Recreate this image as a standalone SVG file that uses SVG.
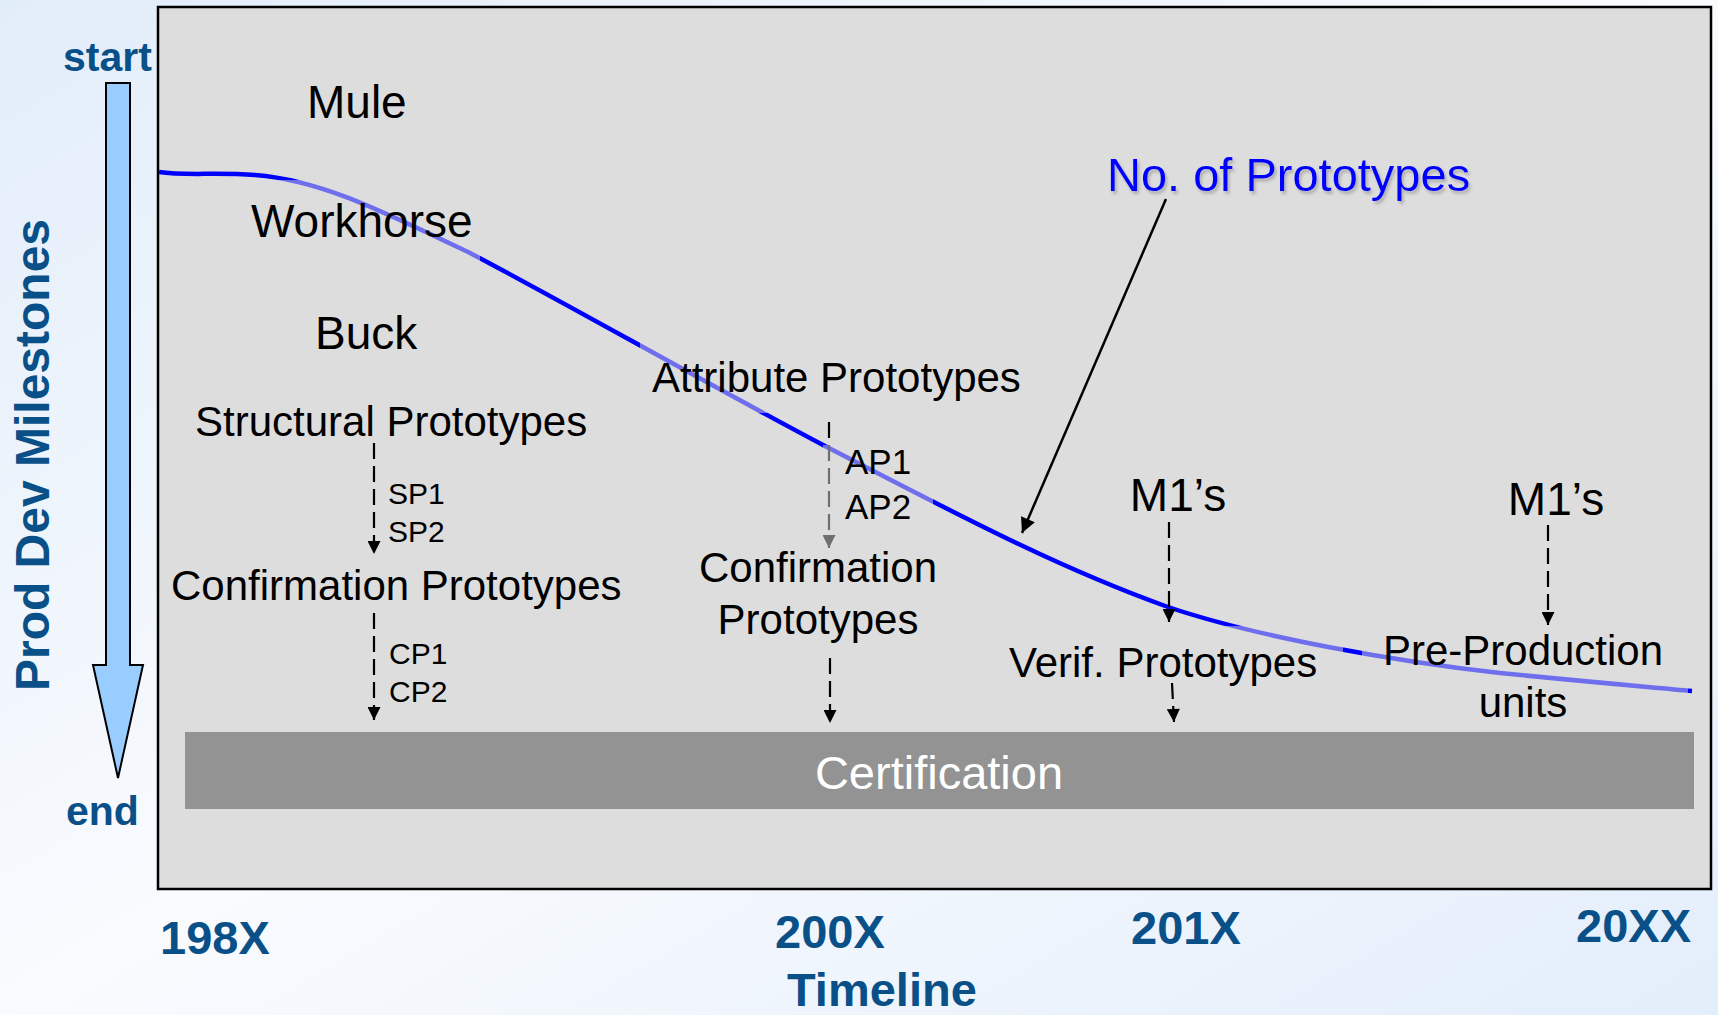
<svg xmlns="http://www.w3.org/2000/svg" width="1718" height="1015" viewBox="0 0 1718 1015">
  <defs>
    <linearGradient id="bg" x1="0" y1="0" x2="1" y2="1">
      <stop offset="0" stop-color="#e2edfa"/>
      <stop offset="0.5" stop-color="#f9fbfe"/>
      <stop offset="1" stop-color="#e3eefb"/>
    </linearGradient>
    <filter id="soft-shadow" x="-5%" y="-20%" width="110%" height="150%">
      <feDropShadow dx="2" dy="3" stdDeviation="1.5" flood-color="#777" flood-opacity="0.45"/>
    </filter>
    <marker id="head" viewBox="0 0 10 10" refX="10" refY="5" markerWidth="15" markerHeight="13" markerUnits="userSpaceOnUse" orient="auto">
      <path d="M0,0 L10,5 L0,10 z" fill="#000"/>
    </marker>
    <marker id="head-lg" viewBox="0 0 10 10" refX="10" refY="5" markerWidth="18" markerHeight="15" markerUnits="userSpaceOnUse" orient="auto">
      <path d="M0,0 L10,5 L0,10 z" fill="#000"/>
    </marker>
    <style>
      .label { font-family: "Liberation Sans", Arial, sans-serif; fill: #000; }
      .big { font-size: 46px; }
      .mid { font-size: 42px; }
      .small { font-size: 30px; }
      .axis { font-family: "Liberation Sans", Arial, sans-serif; font-weight: bold; fill: #0a5088; }
      .veil { fill: #dddddd; opacity: 0.5; }
      .dash { fill: none; stroke: #000; stroke-width: 2.2; stroke-dasharray: 16 7; marker-end: url(#head); }
      .curve { fill: none; stroke: #0000ff; stroke-width: 4.5; stroke-linecap: butt; }
    </style>
  </defs>

  <!-- page background -->
  <rect x="0" y="0" width="1718" height="1015" fill="url(#bg)"/>

  <!-- plot panel -->
  <rect id="panel" x="158" y="7" width="1553" height="882" fill="#dddddd" stroke="#000" stroke-width="2.5"/>

  <!-- milestone axis: big downward arrow -->
  <g id="milestone-axis">
    <polygon points="106,83 130,83 130,665 143,665 118,778 93,665 106,665" fill="#99ccff" stroke="#000" stroke-width="2"/>
    <text class="axis" x="63" y="71" font-size="41">start</text>
    <text class="axis" x="66" y="825" font-size="41">end</text>
    <text class="axis" font-size="48" text-anchor="middle" transform="translate(49,455) rotate(-90)">Prod Dev Milestones</text>
  </g>

  <!-- timeline axis -->
  <g id="timeline-axis" class="axis" font-size="47">
    <text x="160" y="954">198X</text>
    <text x="775" y="948">200X</text>
    <text x="1131" y="944">201X</text>
    <text x="1576" y="942">20XX</text>
    <text x="787" y="1006">Timeline</text>
  </g>

  <!-- certification bar -->
  <g id="certification">
    <rect x="185" y="732" width="1509" height="77" fill="#939393"/>
    <text class="label" x="939" y="789" font-size="47" text-anchor="middle" style="fill:#fff">Certification</text>
  </g>

  <!-- number of prototypes over time -->
  <g id="prototype-curve">
    <path class="curve" d="M159,172 C185,176 215,172 255,175 C320,180 380,210 470,253 C560,300 700,380 823,445 C940,505 1050,565 1168,607 C1260,638 1400,662 1500,673 C1600,683 1650,687 1692,691"/>
  </g>

  <!-- connectors -->
  <g id="connectors">
    <path class="dash" d="M374,443 L374,554"/>
    <path class="dash" d="M374,613 L374,720"/>
    <path class="dash" d="M829,422 L829,548"/>
    <path class="dash" d="M830,658 L830,723"/>
    <path class="dash" d="M1169,522 L1169,622"/>
    <path class="dash" d="M1172,683 L1174,722"/>
    <path class="dash" d="M1548,525 L1548,625"/>
    <path d="M1166,199 L1022,533" fill="none" stroke="#000" stroke-width="2.5" marker-end="url(#head-lg)"/>
  </g>

  <!-- milestone nodes -->
  <g id="mule">
    <text class="label big" x="307" y="118">Mule</text>
  </g>
  <g id="workhorse">
    <rect class="veil" x="240" y="180" width="240" height="82"/>
    <text class="label big" x="251" y="237">Workhorse</text>
  </g>
  <g id="buck">
    <text class="label big" x="315" y="349">Buck</text>
  </g>
  <g id="structural-prototypes">
    <text class="label mid" x="195" y="436">Structural Prototypes</text>
  </g>
  <g id="sp-list">
    <text class="label small" x="388" y="504">SP1</text>
    <text class="label small" x="388" y="542">SP2</text>
  </g>
  <g id="confirmation-prototypes-1">
    <text class="label mid" x="171" y="600">Confirmation Prototypes</text>
  </g>
  <g id="cp-list">
    <text class="label small" x="389" y="664">CP1</text>
    <text class="label small" x="389" y="702">CP2</text>
  </g>
  <g id="attribute-prototypes">
    <rect class="veil" x="640" y="338" width="390" height="75"/>
    <text class="label mid" x="652" y="392">Attribute Prototypes</text>
  </g>
  <g id="ap-list">
    <rect class="veil" x="823" y="445" width="110" height="103"/>
    <text class="label" x="845" y="474" font-size="35">AP1</text>
    <text class="label" x="845" y="519" font-size="35">AP2</text>
  </g>
  <g id="confirmation-prototypes-2">
    <text class="label mid" x="818" y="582" text-anchor="middle">Confirmation</text>
    <text class="label mid" x="818" y="634" text-anchor="middle">Prototypes</text>
  </g>
  <g id="m1s-left">
    <text class="label big" x="1178" y="511" text-anchor="middle">M1’s</text>
  </g>
  <g id="verif-prototypes">
    <rect class="veil" x="1000" y="626" width="343" height="56"/>
    <text class="label mid" x="1009" y="677">Verif. Prototypes</text>
  </g>
  <g id="m1s-right">
    <text class="label big" x="1556" y="515" text-anchor="middle">M1’s</text>
  </g>
  <g id="pre-production">
    <rect class="veil" x="1362" y="632" width="326" height="95"/>
    <text class="label mid" x="1523" y="665" text-anchor="middle">Pre-Production</text>
    <text class="label mid" x="1523" y="717" text-anchor="middle">units</text>
  </g>
  <g id="no-of-prototypes">
    <text class="label" x="1107" y="191" font-size="47" style="fill:#0000ff" filter="url(#soft-shadow)">No. of Prototypes</text>
  </g>
</svg>
